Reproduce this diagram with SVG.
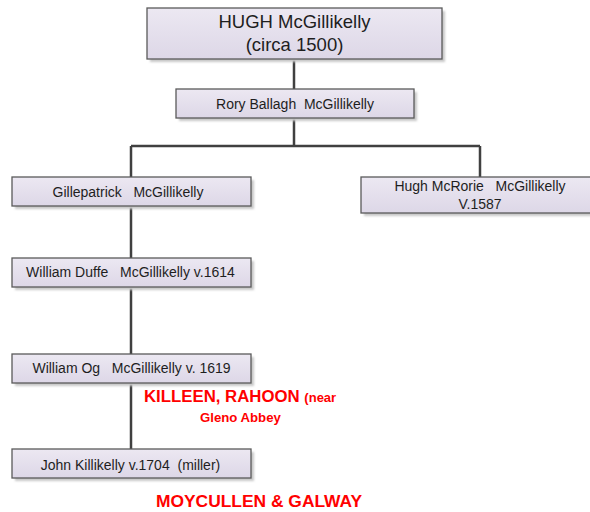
<svg xmlns="http://www.w3.org/2000/svg" width="590" height="512" viewBox="0 0 590 512">
<defs>
<linearGradient id="g" x1="0" y1="0" x2="0" y2="1">
<stop offset="0" stop-color="#ece8f2"/>
<stop offset="1" stop-color="#ddd7e7"/>
</linearGradient>
<filter id="sh" x="-10%" y="-20%" width="130%" height="160%">
<feGaussianBlur stdDeviation="1.2"/>
</filter>
</defs>
<style>
.box{fill:url(#g);stroke:#5a5a5a;stroke-width:1.3}
.shadow{fill:#c8c8c8;filter:url(#sh)}
.t{font-family:"Liberation Sans",Arial,sans-serif;font-size:14px;fill:#1e1e1e;text-anchor:middle;white-space:pre}
.big{font-size:18.5px}
.red{font-family:"Liberation Sans",Arial,sans-serif;font-weight:bold;fill:#ff0000;white-space:pre}
.c{fill:none;stroke:#404040;stroke-width:2.5}
</style>
<rect width="590" height="512" fill="#ffffff"/>
<g id="connectors">
<path class="c" d="M294,59 V89 M294,118 V146 M131,146 H480 M131,146 V177 M480,146 V177 M131,206 V258 M131,287 V354 M131,383 V449"/>
</g>
<g id="hugh">
<rect class="shadow" x="150" y="11" width="295" height="51"/>
<rect class="box" x="147" y="8" width="295" height="51"/>
<text class="t big" x="294.5" y="28">HUGH McGillikelly</text>
<text class="t big" x="294.5" y="51">(circa 1500)</text>
</g>
<g id="rory">
<rect class="shadow" x="179" y="92" width="238" height="29"/>
<rect class="box" x="176" y="89" width="238" height="29"/>
<text class="t" x="295" y="109">Rory Ballagh  McGillikelly</text>
</g>
<g id="gillepatrick">
<rect class="shadow" x="15" y="180" width="239" height="29"/>
<rect class="box" x="12" y="177" width="239" height="29"/>
<text class="t" x="128" y="197">Gillepatrick   McGillikelly</text>
</g>
<g id="hughmcrorie">
<rect class="shadow" x="364" y="180" width="240" height="36"/>
<rect class="box" x="361" y="177" width="240" height="36"/>
<text class="t" x="480" y="191">Hugh McRorie   McGillikelly</text>
<text class="t" x="480" y="209">V.1587</text>
</g>
<g id="williamduffe">
<rect class="shadow" x="15" y="261" width="239" height="29"/>
<rect class="box" x="12" y="258" width="239" height="29"/>
<text class="t" x="130.5" y="277">William Duffe   McGillikelly v.1614</text>
</g>
<g id="williamog">
<rect class="shadow" x="15" y="357" width="239" height="29"/>
<rect class="box" x="12" y="354" width="239" height="29"/>
<text class="t" x="131.5" y="373">William Og   McGillikelly v. 1619</text>
</g>
<g id="john">
<rect class="shadow" x="15" y="452" width="239" height="29"/>
<rect class="box" x="12" y="449" width="239" height="29"/>
<text class="t" x="130.5" y="470">John Killikelly v.1704  (miller)</text>
</g>
<g id="labels">
<text class="red" x="144" y="402" font-size="16.8">KILLEEN, RAHOON <tspan font-size="13">(near</tspan></text>
<text class="red" x="200" y="422" font-size="13.2">Gleno Abbey</text>
<text class="red" x="156" y="507" font-size="17.4">MOYCULLEN &amp; GALWAY</text>
</g>
</svg>
